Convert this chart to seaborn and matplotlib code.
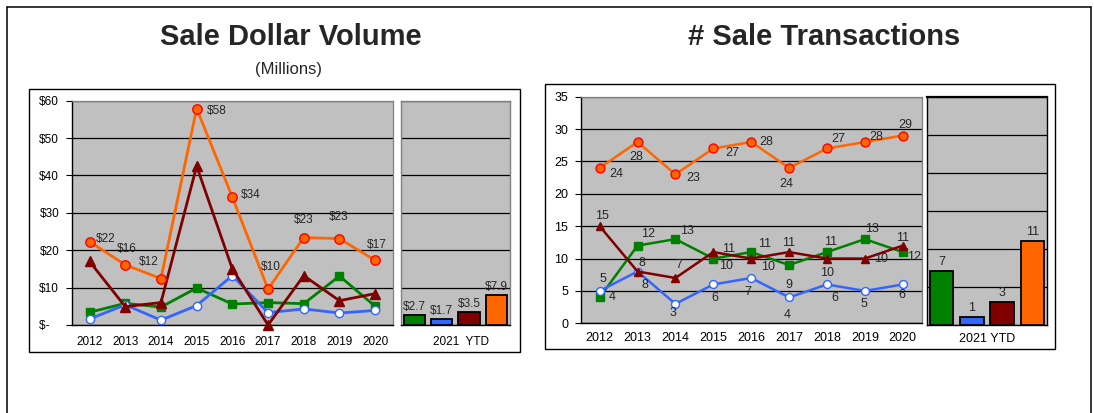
import matplotlib
matplotlib.use("Agg")
import matplotlib.pyplot as plt
from matplotlib.patches import Rectangle
from matplotlib.lines import Line2D
import seaborn as sns

# Data
years = [2012, 2013, 2014, 2015, 2016, 2017, 2018, 2019, 2020]
series = ["green", "blue", "darkred", "orange"]

# Sale dollar volume, $ millions
vol_green = [3.4, 5.8, 4.8, 9.9, 5.6, 6.0, 5.7, 13.1, 5.0]
vol_blue = [1.6, 5.4, 1.3, 5.2, 13.2, 3.3, 4.3, 3.2, 3.9]
vol_darkred = [17.0, 4.9, 6.0, 42.5, 15.0, 0.0, 13.2, 6.5, 8.4]
vol_orange = [22.3, 16.1, 12.4, 57.9, 34.2, 9.6, 23.4, 23.1, 17.3]
vol_orange_labels = ["$22", "$16", "$12", "$58", "$34", "$10", "$23", "$23", "$17"]
vol_ytd = [2.7, 1.7, 3.5, 7.9]
vol_ytd_labels = ["$2.7", "$1.7", "$3.5", "$7.9"]

# Number of sale transactions
cnt_green = [4, 12, 13, 10, 11, 9, 11, 13, 11]
cnt_blue = [5, 8, 3, 6, 7, 4, 6, 5, 6]
cnt_darkred = [15, 8, 7, 11, 10, 11, 10, 10, 12]
cnt_orange = [24, 28, 23, 27, 28, 24, 27, 28, 29]
cnt_ytd = [7, 1, 3, 11]

vol_ticks = [0, 10, 20, 30, 40, 50, 60]
vol_tick_labels = ["$-   ", "$10", "$20", "$30", "$40", "$50", "$60"]
cnt_ticks = [0, 5, 10, 15, 20, 25, 30, 35]
ytd_label = "2021  YTD"

# styles
GRAY = "#C0C0C0"
colors = {"green": "#008000", "blue": "#3366FF", "darkred": "#800000", "orange": "#FF6600"}
markers = {"green": "s", "blue": "o", "darkred": "^", "orange": "o"}
faces = {"green": "#008000", "blue": "white", "darkred": "#800000", "orange": "#FF6600"}
edges = {"green": "#008000", "blue": "#3366FF", "darkred": "#800000", "orange": "#FF0000"}
msizes = {"green": 6.0, "blue": 6.0, "darkred": 6.5, "orange": 6.8}

# label offsets in pixels (dx, dy up)
vol_off = [(16, 3), (2, 16), (-12, 17), (20, -2), (18, 2), (3, 22), (0, 18), (-1, 22), (2, 15)]
cnt_off = {
    "orange": [(17, -6), (-1, -15), (18, -4), (19, -5), (15, 0), (-3, -16), (11, 9), (11, 5), (3, 11)],
    "darkred": [(2, 10), (7, -13), (3, 13), (15, 3), (17, -8), (0, 9), (0, -14), (16, 0), (11, -11)],
    "green": [(13, 0), (11, 12), (12, 8), (13, -7), (13, 8), (0, -20), (4, 10), (7, 10), (0, 14)],
    "blue": [(3, 12), (4, 9), (-2, -9), (2, -14), (-3, -14), (-2, -18), (8, -14), (-1, -13), (-1, -11)],
}

sns.set_style("white")
plt.rcParams["font.family"] = ["Liberation Sans", "DejaVu Sans"]

W, H = 1094, 413
fig = plt.figure(figsize=(W / 100, H / 100), dpi=100)
fig.patch.set_facecolor("white")


def px_rect(x0, y0, x1, y1):
    return [x0 / W, 1 - y1 / H, (x1 - x0) / W, (y1 - y0) / H]


def box(x0, y0, x1, y1):
    # thin drop shadow, then the white panel
    fig.add_artist(Rectangle((x0 / W + 1.2 / W, 1 - y1 / H - 1.2 / H), (x1 - x0) / W, (y1 - y0) / H,
                             transform=fig.transFigure, facecolor="#606060", edgecolor="none",
                             zorder=-2))
    fig.add_artist(Rectangle((x0 / W, 1 - y1 / H), (x1 - x0) / W, (y1 - y0) / H,
                             transform=fig.transFigure, facecolor="white", edgecolor="black",
                             lw=1.0, zorder=-1))


# outer frame (no bottom edge visible)
for (xa, ya, xb, yb) in [(6.5, 6.5, 6.5, 420), (6.5, 6.5, 1091, 6.5), (1091, 6.5, 1091, 420)]:
    fig.add_artist(Line2D([xa / W, xb / W], [1 - ya / H, 1 - yb / H], transform=fig.transFigure,
                          color="black", lw=1.1))

box(29, 89, 520, 352)
box(545, 83.5, 1055, 349)


def style_line_axes(ax, ticks, ymax, fs, xpad, ypad):
    ax.set_facecolor(GRAY)
    ax.set_xlim(2011.5, 2020.5)
    ax.set_ylim(0, ymax)
    ax.set_yticks(ticks)
    ax.set_xticks(years)
    ax.set_xticklabels([str(y) for y in years])
    ax.yaxis.grid(True, color="black", linewidth=0.9)
    ax.set_axisbelow(True)
    ax.tick_params(axis="x", length=0, pad=xpad, labelsize=fs, colors="black")
    ax.tick_params(axis="y", length=4, width=0.8, direction="out", left=True, pad=ypad,
                   labelsize=fs, colors="black")
    for s in ["top", "right"]:
        ax.spines[s].set_color("#808080")
        ax.spines[s].set_linewidth(0.9)
    for s in ["left", "bottom"]:
        ax.spines[s].set_color("black")
        ax.spines[s].set_linewidth(1.0)
    ax.set_xlabel("")
    ax.set_ylabel("")


def draw_lines(ax, data, lw, scale):
    for key in series:
        sns.lineplot(x=years, y=data[key], ax=ax, color=colors[key], linewidth=lw,
                     marker=markers[key], markersize=msizes[key] * scale,
                     markerfacecolor=faces[key], markeredgecolor=edges[key],
                     markeredgewidth=1.0, clip_on=False, zorder=3)


def draw_bars(ax, values, ymax, ticks, edge):
    sns.barplot(x=series, y=values, hue=series, palette=colors, saturation=1, ax=ax,
                width=0.77, edgecolor="black", linewidth=1.3, legend=False, zorder=3)
    ax.set_facecolor(GRAY)
    ax.set_xlim(-0.5, 3.5)
    ax.set_ylim(0, ymax)
    ax.set_yticks(ticks)
    ax.set_yticklabels([])
    ax.yaxis.grid(True, color="black", linewidth=0.9)
    ax.set_axisbelow(True)
    ax.tick_params(axis="y", length=0)
    for s in ax.spines.values():
        s.set_color(edge)
        s.set_linewidth(1.0)
    ax.spines["bottom"].set_color("black")
    ax.set_xlabel("")
    ax.set_ylabel("")


# ---- Sale Dollar Volume ----
ax1 = fig.add_axes(px_rect(71.7, 100.7, 393, 325))
vol = {"green": vol_green, "blue": vol_blue, "darkred": vol_darkred, "orange": vol_orange}
draw_lines(ax1, vol, 2.0, 1.0)
style_line_axes(ax1, vol_ticks, 60, 8.5, 8, 5)
ax1.set_yticklabels(vol_tick_labels)
for x, y, t, (dx, dy) in zip(years, vol_orange, vol_orange_labels, vol_off):
    ax1.annotate(t, (x, y), xytext=(dx, dy), textcoords="offset pixels", ha="center",
                 va="center", fontsize=8.5, annotation_clip=False, zorder=5)

ax1b = fig.add_axes(px_rect(400.7, 100.7, 510, 325))
draw_bars(ax1b, vol_ytd, 60, vol_ticks, "#808080")
ax1b.set_xticks([1.7])
ax1b.set_xticklabels([ytd_label])
ax1b.tick_params(axis="x", length=0, pad=8, labelsize=8.5, colors="black")
for i, (v, t) in enumerate(zip(vol_ytd, vol_ytd_labels)):
    ax1b.annotate(t, (i, v), xytext=(0, 2), textcoords="offset pixels", ha="center",
                  va="bottom", fontsize=8.5, annotation_clip=False, zorder=5)

# ---- # Sale Transactions ----
ax2 = fig.add_axes(px_rect(580.7, 96.7, 921.7, 323.3))
cnt = {"green": cnt_green, "blue": cnt_blue, "darkred": cnt_darkred, "orange": cnt_orange}
draw_lines(ax2, cnt, 1.8, 0.95)
style_line_axes(ax2, cnt_ticks, 35, 9, 6, 5)
for key in ["orange", "darkred", "green", "blue"]:
    for x, y, (dx, dy) in zip(years, cnt[key], cnt_off[key]):
        ax2.annotate(str(y), (x, y), xytext=(dx, dy), textcoords="offset pixels", ha="center",
                     va="center", fontsize=9, annotation_clip=False, zorder=5)

ax2b = fig.add_axes(px_rect(926.7, 96.7, 1047.3, 324.5))
draw_bars(ax2b, cnt_ytd, 30, [0, 5, 10, 15, 20, 25, 30], "black")
ax2b.spines["top"].set_linewidth(1.6)
ax2b.set_xticks([1.5])
ax2b.set_xticklabels([ytd_label.replace("  ", " ")])
ax2b.tick_params(axis="x", length=0, pad=6, labelsize=9, colors="black")
for i, v in enumerate(cnt_ytd):
    ax2b.annotate(str(v), (i, v), xytext=(0, 3), textcoords="offset pixels", ha="center",
                  va="bottom", fontsize=9, annotation_clip=False, zorder=5)

# titles
fig.text(291 / W, 1 - 45 / H, "Sale Dollar Volume", ha="center", va="baseline",
         fontsize=21, fontweight="bold")
fig.text(289 / W, 1 - 74 / H, "(Millions)", ha="center", va="baseline", fontsize=12)
fig.text(824 / W, 1 - 45 / H, "# Sale Transactions", ha="center", va="baseline",
         fontsize=21, fontweight="bold")

fig.savefig("out.png", dpi=100, facecolor="white")
